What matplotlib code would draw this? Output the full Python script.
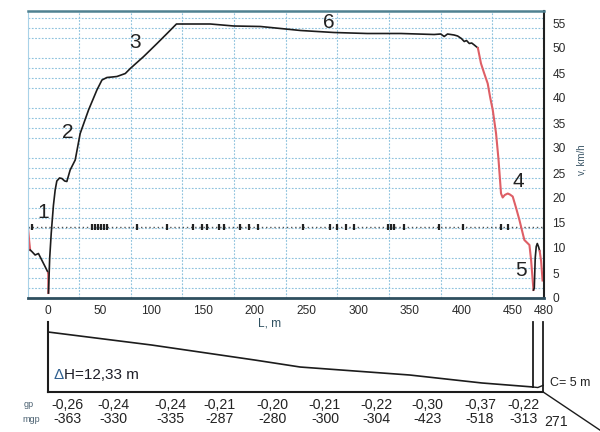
import matplotlib
matplotlib.use("Agg")
import matplotlib.pyplot as plt
from matplotlib.transforms import offset_copy

plt.rcParams['font.family'] = ['Liberation Sans', 'DejaVu Sans']

# ---- speed profile v(L) ----
approach_red_x = [-19.3, -18.4, -17.4]
approach_red_v = [13.6, 11.5, 9.6]

approach_x = [-17.4, -15.8, -12.6, -9.4, -6.2, -3.0, 0.1]
approach_v = [9.6, 9.3, 8.6, 8.9, 7.6, 6.3, 5.0]

stop_red_x = [0.1, 0.2]
stop_red_v = [5.0, 1.0]

run_x = [0.3, 1.5, 3.0, 5.1, 6.8, 8.4, 11.0, 13.3, 16.0, 18.1, 21.3, 26.2,
         31.0, 39.1, 47.2, 52.1, 56.9, 62.0, 66.6, 74.7, 79.5, 92.5, 105.4,
         115.1, 124.2, 140.0, 157.0, 179.7, 205.6, 225.0, 244.4, 276.7,
         309.0, 341.4, 373.7, 380.0, 383.4, 386.6, 393.0, 396.4, 400.0,
         402.8, 405.0, 407.7, 410.0, 412.5, 416.0]
run_v = [1.0, 8.0, 13.0, 18.5, 21.6, 23.4, 24.0, 23.9, 23.4, 23.3, 25.6, 27.6,
         32.9, 37.6, 41.6, 43.6, 44.1, 44.2, 44.3, 44.9, 45.9, 48.3, 50.9,
         52.9, 54.8, 54.8, 54.8, 54.4, 54.3, 53.9, 53.5, 53.1,
         52.9, 52.9, 52.7, 52.8, 52.3, 52.8, 52.6, 52.4, 51.9,
         51.3, 51.5, 50.9, 51.0, 50.6, 50.0]

brake_x = [416.0, 419.0, 422.0, 425.5, 428.0, 430.4, 433.6, 436.0, 438.4,
           440.0, 442.0, 444.9, 447.0, 449.7, 453.0, 456.2, 461.0, 465.9,
           467.5, 469.8]
brake_v = [50.0, 46.9, 45.0, 42.9, 40.0, 37.6, 32.9, 27.6, 20.9,
           20.1, 20.6, 20.9, 20.7, 20.3, 18.0, 15.6, 11.6, 10.6,
           7.6, 1.6]

end_x = [469.8, 470.6, 471.5, 472.5, 473.5, 474.8, 475.8]
end_v = [1.6, 2.0, 8.0, 10.3, 10.9, 10.2, 9.4]

tail_red_x = [475.8, 477.2, 478.6]
tail_red_v = [9.4, 7.4, 3.5]

# marks along the reference level line
mark_level = 14.3
mark_x = [-15.8, 42, 45, 48, 51, 54, 57, 86, 115, 140, 149, 154, 165, 170,
          186, 194, 203, 247, 273, 280, 288, 296, 329, 332, 335, 344, 378,
          402, 438, 445]

# section numbers
section_labels = ["1", "2", "3", "4", "5", "6"]
section_x = [-4.8, 19.4, 84.4, 455.0, 458.0, 271.6]
section_v = [17.0, 33.0, 51.0, 23.2, 5.6, 55.2]

x_ticks = [0, 50, 100, 150, 200, 250, 300, 350, 400, 450, 480]
x_grid = [30, 80, 130, 180, 230, 280, 330, 380, 430]
y_ticks = [0, 5, 10, 15, 20, 25, 30, 35, 40, 45, 50, 55]
y_grid = list(range(2, 57, 2))

# ---- track profile ----
profile_x = [0, 100, 200, 244, 350, 420, 469.5]
profile_h = [13.45, 10.54, 7.17, 5.6, 3.81, 2.02, 1.12]
dh_symbol = "Δ"
dh_rest = "H=12,33 m"
c_text = "C= 5 m"

gp_values = ["-0,26", "-0,24", "-0,24", "-0,21", "-0,20", "-0,21", "-0,22",
             "-0,30", "-0,37", "-0,22"]
mgp_values = ["-363", "-330", "-335", "-287", "-280", "-300", "-304",
              "-423", "-518", "-313"]
mgp_extra = "271"
table_x = [18.4, 62.9, 118, 166, 217, 268, 318, 367, 418, 460]

RED = "#de5f66"
INK = "#1c1c1c"
GRID = "#8fc3de"

W, H = 600, 432
fig = plt.figure(figsize=(W / 100, H / 100), dpi=100)

XL = (-19.5, 480)
ax = fig.add_axes([28 / W, 1 - 298 / H, 516 / W, 287 / H])
ax.set_xlim(*XL)
ax.set_ylim(0, 57.4)

ax.set_xticks(x_ticks)
ax.set_xticklabels([str(t) for t in x_ticks])
ax.set_xticks(x_grid, minor=True)
ax.set_yticks(y_ticks)
ax.set_yticks(y_grid, minor=True)
ax.yaxis.tick_right()
ax.tick_params(which='both', length=0)
ax.tick_params(axis='x', labelsize=8.6, colors='#2a2a2a', pad=5)
ax.tick_params(axis='y', labelsize=8.6, colors='#2a2a2a', pad=6)
ax.grid(which='minor', color=GRID, linestyle=(0, (1.6, 1.4)), linewidth=0.8)
ax.grid(which='major', visible=False)

ax.spines['left'].set_color('#a9d2e8')
ax.spines['left'].set_linewidth(0.8)
ax.spines['top'].set_color('#4f8191')
ax.spines['top'].set_linewidth(1.8)
ax.spines['right'].set_color('#202020')
ax.spines['right'].set_linewidth(1.5)
ax.spines['bottom'].set_color('#2f4f5f')
ax.spines['bottom'].set_linewidth(2.0)

# level line with marks
ax.axhline(mark_level, color='#555555', linestyle=(0, (1, 2)), linewidth=1.0)
ax.plot(mark_x, [mark_level] * len(mark_x), linestyle='none', marker='|',
        markersize=5, markeredgewidth=1.6, color='#222222')

ax.plot(approach_red_x, approach_red_v, color=RED, lw=1.5)
ax.plot(approach_x, approach_v, color=INK, lw=1.2)
ax.plot(stop_red_x, stop_red_v, color=RED, lw=1.5)
ax.plot(run_x, run_v, color=INK, lw=1.2)
ax.plot(brake_x, brake_v, color=RED, lw=1.5)
ax.plot(end_x, end_v, color=INK, lw=1.2)
ax.plot(tail_red_x, tail_red_v, color=RED, lw=1.5)

for s, xs, vs in zip(section_labels, section_x, section_v):
    ax.text(xs, vs, s, fontsize=15, color='#222222', ha='center', va='center')

fig.text(582 / W, 1 - 160 / H, "v, km/h", rotation=90, fontsize=7,
         color='#3a5566', ha='center', va='center')
fig.text(270 / W, 1 - 323 / H, "L, m", fontsize=8.6, color='#2f5060',
         ha='center', va='center')

# ---- lower profile panel ----
ax2 = fig.add_axes([28 / W, 0, 516 / W, 132 / H])
ax2.set_xlim(*XL)
ax2.set_ylim(-8.97, 20.63)
ax2.axis('off')

top_h = 15.7
ax2.plot([0, 0], [top_h, 0], color=INK, lw=1.5)
ax2.plot([0, 479.2], [0, 0], color=INK, lw=1.5)
ax2.plot(profile_x, profile_h, color=INK, lw=1.2)
ax2.plot([469.5, 469.5], [top_h, profile_h[-1]], color=INK, lw=1.3)
ax2.plot([469.5, 474.0, 479.2], [profile_h[-1], 1.0, 1.5], color=INK, lw=1.0)
ax2.plot([479.2, 479.2], [top_h, 0], color=INK, lw=1.3)
ax2.plot([479.2, 534.5], [0, -8.6], color=INK, lw=1.0, clip_on=False)

# elevation difference label: blue delta followed by the value
t_delta = ax2.text(5, 3.8, dh_symbol, fontsize=11, color='#2f5f8f',
                   ha='left', va='center')
fig.canvas.draw()
delta_w_pt = t_delta.get_window_extent().width * 72.0 / fig.dpi
ax2.text(5, 3.8, dh_rest, fontsize=11, color='#1e1e28', ha='left', va='center',
         transform=offset_copy(ax2.transData, fig=fig, x=delta_w_pt + 0.3,
                               y=0, units='points'))
ax2.text(486, 2.0, c_text, fontsize=9, color='#222222', ha='left',
         va='center', clip_on=False)

ax2.text(-19, -2.9, "gp", fontsize=6.5, color='#4a6070', ha='center', va='center')
ax2.text(-16, -6.1, "mgp", fontsize=6.5, color='#4a6070', ha='center', va='center')
for xt, g, m in zip(table_x, gp_values, mgp_values):
    ax2.text(xt, -2.9, g, fontsize=10.2, color='#222222', ha='center', va='center')
    ax2.text(xt, -6.1, m, fontsize=10.2, color='#222222', ha='center', va='center')
ax2.text(492, -6.7, mgp_extra, fontsize=10.2, color='#222222', ha='center',
         va='center', clip_on=False)

fig.savefig("out.png", dpi=100)
